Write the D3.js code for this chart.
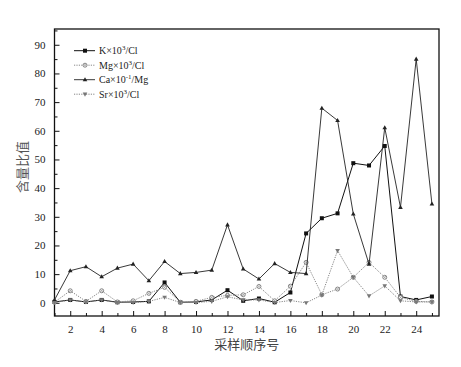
<!DOCTYPE html>
<html><head><meta charset="utf-8">
<script src="https://cdn.jsdelivr.net/npm/d3@7"></script>
<style>body{margin:0;background:#fff}svg{display:block}</style>
</head><body>
<svg id="c" width="461" height="367"></svg>
<script>
const samples = d3.range(1, 26);
const kCl  = [0.3,1.0,0.3,1.0,0.2,0.3,0.5,7.1,0.2,0.3,1.0,4.4,0.7,1.5,0.2,3.6,24.2,29.5,31.2,48.7,47.9,54.7,2.2,1.0,2.2];
const mgCl = [0.2,4.2,0.5,4.2,0.3,0.7,3.3,5.4,0.2,0.5,1.9,2.6,2.8,5.7,0.7,5.8,14.1,2.8,4.8,8.9,14.1,8.9,1.9,0.5,0.3];
const caMg = [1.0,11.2,12.6,9.1,12.1,13.5,7.7,14.4,10.2,10.6,11.4,27.2,11.8,8.3,13.7,10.6,10.2,67.9,63.6,31.0,13.5,61.1,33.3,85.0,34.5];
const srCl = [0.1,1.0,0.3,1.0,0.1,0.1,0.5,1.9,0.1,0.1,0.5,2.1,1.0,1.0,0.1,0.8,0.0,2.7,18.2,8.9,2.4,5.9,0.7,0.3,0.3];
const seriesNames = ["K×10|3|/Cl","Mg×10|3|/Cl","Ca×10|-1|/Mg","Sr×10|3|/Cl"];
const yTicks = d3.range(0, 91, 10);
const xTicks = d3.range(2, 25, 2);

const svg = d3.select("#c");
const L = 54.5, R = 439, T = 29, B = 316;
const x = d3.scaleLinear().domain([1, 25.45]).range([L, R]);
const y = d3.scaleLinear().domain([-4.6, 95.5]).range([B, T]);
const serif = "'Liberation Serif','Times New Roman',serif";

// y axis (inward ticks)
const yMinor = d3.range(5, 96, 10);
svg.append("g").attr("transform", `translate(${L},0)`)
  .call(d3.axisLeft(y).tickValues(yMinor).tickSize(-3).tickFormat(""))
  .call(g => g.select(".domain").remove())
  .call(g => g.selectAll("text").remove());
svg.append("g").attr("transform", `translate(${L},0)`)
  .call(d3.axisLeft(y).tickValues(yTicks).tickSize(-5).tickPadding(9).tickFormat(d3.format("d")))
  .call(g => g.select(".domain").remove())
  .call(g => g.selectAll("text").attr("font-family", serif).attr("font-size", 11).attr("fill", "#222"));
// x axis
svg.append("g").attr("transform", `translate(0,${B})`)
  .call(d3.axisBottom(x).tickValues(d3.range(1, 26, 2)).tickSize(-3).tickFormat(""))
  .call(g => g.select(".domain").remove())
  .call(g => g.selectAll("text").remove());
svg.append("g").attr("transform", `translate(0,${B})`)
  .call(d3.axisBottom(x).tickValues(xTicks).tickSize(-5).tickPadding(9).tickFormat(d3.format("d")))
  .call(g => g.select(".domain").remove())
  .call(g => g.selectAll("text").attr("font-family", serif).attr("font-size", 11).attr("fill", "#222"));
svg.selectAll(".tick line").attr("stroke", "#111");

// frame
svg.append("rect").attr("x", L).attr("y", T).attr("width", R - L).attr("height", B - T)
  .attr("fill", "none").attr("stroke", "#111").attr("stroke-width", 1.3);

// labels
svg.append("text").attr("x", (L + R) / 2).attr("y", 349).attr("text-anchor", "middle")
  .attr("font-family", "'Noto Sans CJK SC',sans-serif").attr("font-size", 13).attr("fill", "#444").text("采样顺序号");
svg.append("text").attr("transform", "translate(27,167) rotate(-90)").attr("text-anchor", "middle")
  .attr("font-family", "'Noto Sans CJK SC',sans-serif").attr("font-size", 13).attr("fill", "#555").text("含量比值");

const styles = [
  {data: kCl,  stroke: "#111", dash: null,  w: 1,   marker: "square"},
  {data: mgCl, stroke: "#888", dash: "1.2,1.2", w: 1, marker: "circle"},
  {data: caMg, stroke: "#222", dash: null,  w: 0.9, marker: "tri"},
  {data: srCl, stroke: "#777", dash: "1.2,1.2", w: 0.9, marker: "dtri"}
];
const line = d3.line().x((d, i) => x(samples[i])).y(d => y(d));
const plot = svg.append("g");

function drawMarker(g, type, cx, cy) {
  if (type === "square") g.append("rect").attr("x", cx - 2).attr("y", cy - 2).attr("width", 4).attr("height", 4).attr("fill", "#111");
  else if (type === "circle") {
    g.append("circle").attr("cx", cx).attr("cy", cy).attr("r", 2).attr("fill", "#fff").attr("stroke", "#777").attr("stroke-width", 0.9);
    g.append("path").attr("d", `M${cx-1.3},${cy-1.3}L${cx+1.3},${cy+1.3}M${cx-1.3},${cy+1.3}L${cx+1.3},${cy-1.3}`).attr("stroke", "#888").attr("stroke-width", 0.6);
  }
  else if (type === "tri") g.append("path").attr("d", `M${cx},${cy-2.5}L${cx+2.3},${cy+1.6}L${cx-2.3},${cy+1.6}Z`).attr("fill", "#222");
  else g.append("path").attr("d", `M${cx},${cy+2.5}L${cx+2.3},${cy-1.6}L${cx-2.3},${cy-1.6}Z`).attr("fill", "#777");
}

styles.forEach(s => {
  plot.append("path").datum(s.data).attr("d", line).attr("fill", "none")
    .attr("stroke", s.stroke).attr("stroke-width", s.w).attr("stroke-dasharray", s.dash);
  s.data.forEach((v, i) => drawMarker(plot, s.marker, x(samples[i]), y(v)));
});

// legend
const lg = svg.append("g");
seriesNames.forEach((name, i) => {
  const yy = 50.7 + i * 14.5, s = styles[i];
  lg.append("line").attr("x1", 74).attr("x2", 95).attr("y1", yy).attr("y2", yy)
    .attr("stroke", s.stroke).attr("stroke-width", s.w).attr("stroke-dasharray", s.dash);
  drawMarker(lg, s.marker, 85, yy);
  const parts = name.split("|");
  const t = lg.append("text").attr("x", 99).attr("y", yy + 3.5).attr("font-family", serif).attr("font-size", 10).attr("fill", "#222");
  t.append("tspan").text(parts[0]);
  t.append("tspan").attr("dy", -4).attr("font-size", 7).text(parts[1]);
  t.append("tspan").attr("dy", 4).text(parts[2]);
});
</script>
</body></html>
